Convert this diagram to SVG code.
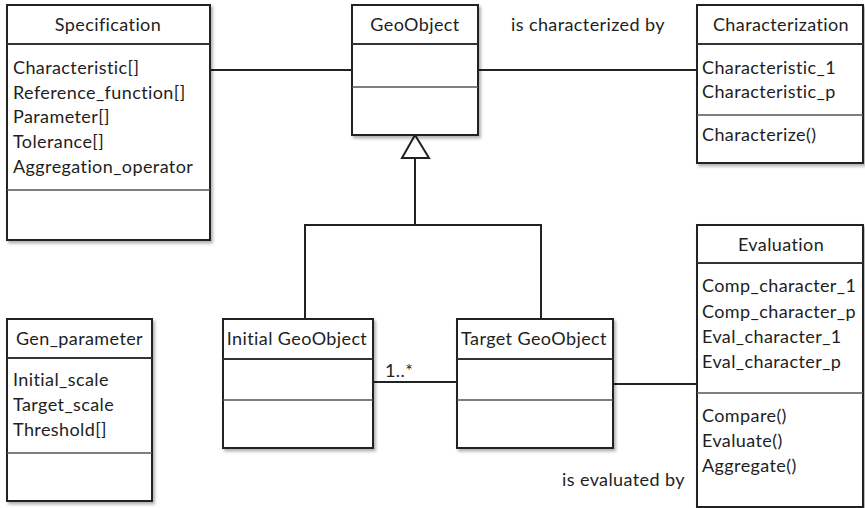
<svg xmlns="http://www.w3.org/2000/svg" width="865" height="508" viewBox="0 0 865 508">
<defs>
<filter id="sh" x="-5%" y="-5%" width="115%" height="115%">
<feDropShadow dx="2" dy="2.5" stdDeviation="1.5" flood-color="#000" flood-opacity="0.3"/>
</filter>
<style>
.box{fill:#fff;stroke:#222;stroke-width:2;filter:url(#sh)}
.hl{stroke:#333;stroke-width:2}
.dl{stroke:#555;stroke-width:1.3}
.c{fill:none;stroke:#222;stroke-width:2}
text{font-family:Lato,"Open Sans","Liberation Sans",sans-serif;font-size:18px;letter-spacing:0.4px;fill:#1e1e1e}
.t{text-anchor:middle}
</style>
</defs>
<rect width="865" height="508" fill="#fff"/>
<g id="connectors">
<line class="c" x1="210" y1="70" x2="352" y2="70"/>
<line class="c" x1="478" y1="70" x2="697" y2="70"/>
<line class="c" x1="373" y1="382" x2="457" y2="382"/>
<line class="c" x1="613" y1="384" x2="697" y2="384"/>
<polyline class="c" points="305,319 305,225 541,225 541,319"/>
<line class="c" x1="415" y1="225" x2="415" y2="158"/>
<polygon points="415,135 402,158 429,158" fill="#fff" stroke="#222" stroke-width="2"/>
<text x="511" y="31">is characterized by</text>
<text x="562" y="486">is evaluated by</text>
<text x="385" y="377">1..*</text>
</g>
<g id="Specification">
<rect class="box" x="7" y="5" width="203" height="235"/>
<line class="hl" x1="7" y1="44" x2="210" y2="44"/>
<line class="dl" x1="7" y1="190" x2="210" y2="190"/>
<text class="t" x="108" y="31">Specification</text>
<text x="13" y="74">Characteristic[]</text>
<text x="13" y="98.5">Reference_function[]</text>
<text x="13" y="123">Parameter[]</text>
<text x="13" y="148">Tolerance[]</text>
<text x="13" y="172.5">Aggregation_operator</text>
</g>
<g id="GeoObject">
<rect class="box" x="352" y="5" width="126" height="130"/>
<line class="hl" x1="352" y1="44" x2="478" y2="44"/>
<line class="dl" x1="352" y1="87" x2="478" y2="87"/>
<text class="t" x="415" y="31">GeoObject</text>
</g>
<g id="Characterization">
<rect class="box" x="697" y="5" width="166" height="158"/>
<line class="hl" x1="697" y1="44" x2="863" y2="44"/>
<line class="dl" x1="697" y1="115" x2="863" y2="115"/>
<text class="t" x="781" y="31">Characterization</text>
<text x="702" y="74">Characteristic_1</text>
<text x="702" y="98">Characteristic_p</text>
<text x="702" y="141">Characterize()</text>
</g>
<g id="Evaluation">
<rect class="box" x="697" y="225" width="166" height="282"/>
<line class="hl" x1="697" y1="263" x2="863" y2="263"/>
<line class="dl" x1="697" y1="393" x2="863" y2="393"/>
<text class="t" x="781" y="251">Evaluation</text>
<text x="702" y="292">Comp_character_1</text>
<text x="702" y="318">Comp_character_p</text>
<text x="702" y="343">Eval_character_1</text>
<text x="702" y="368">Eval_character_p</text>
<text x="702" y="422">Compare()</text>
<text x="702" y="447">Evaluate()</text>
<text x="702" y="472">Aggregate()</text>
</g>
<g id="Gen_parameter">
<rect class="box" x="7" y="319" width="145" height="182"/>
<line class="hl" x1="7" y1="358" x2="152" y2="358"/>
<line class="dl" x1="7" y1="453" x2="152" y2="453"/>
<text class="t" x="79.5" y="345">Gen_parameter</text>
<text x="13" y="386">Initial_scale</text>
<text x="13" y="411">Target_scale</text>
<text x="13" y="436">Threshold[]</text>
</g>
<g id="InitialGeoObject">
<rect class="box" x="223" y="319" width="150" height="129"/>
<line class="hl" x1="223" y1="359" x2="373" y2="359"/>
<line class="dl" x1="223" y1="400" x2="373" y2="400"/>
<text class="t" x="297" y="345">Initial GeoObject</text>
</g>
<g id="TargetGeoObject">
<rect class="box" x="457" y="319" width="156" height="129"/>
<line class="hl" x1="457" y1="359" x2="613" y2="359"/>
<line class="dl" x1="457" y1="400" x2="613" y2="400"/>
<text class="t" x="534" y="345">Target GeoObject</text>
</g>
</svg>
